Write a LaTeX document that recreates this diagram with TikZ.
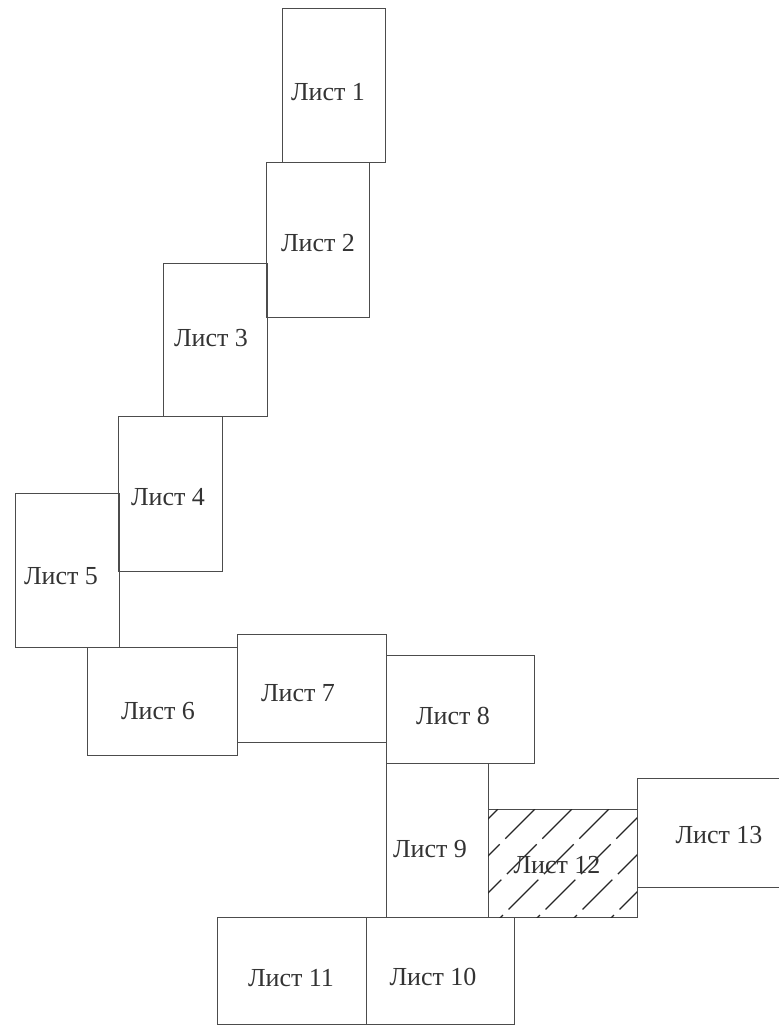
\documentclass[tikz,border=0pt]{standalone}
\usepackage{fontspec}
\setmainfont{Liberation Serif}
\begin{document}
\begin{tikzpicture}[x=1pt,y=-1pt,
  sheet/.style={draw=black!70,line width=0.9pt,inner sep=0pt,outer sep=0pt},
  lbl/.style={text=black!80,font=\fontsize{26}{30}\selectfont,inner sep=0pt},
  hatchline/.style={draw=black!85,line width=1.3pt,dash pattern=on 42pt off 8pt}]
\useasboundingbox (0,0) rectangle (779,1026);
\clip (0,0) rectangle (779,1026);
% boxes
\node[sheet,minimum width=103pt,minimum height=154pt] (s1) at (333.5,85) {};
\node[sheet,minimum width=103pt,minimum height=155pt] (s2) at (317.5,239.5) {};
\node[sheet,minimum width=104pt,minimum height=153pt] (s3) at (215,339.5) {};
\node[sheet,minimum width=104pt,minimum height=155pt] (s4) at (170,493.5) {};
\node[sheet,minimum width=104pt,minimum height=154pt] (s5) at (67,570) {};
\node[sheet,minimum width=150pt,minimum height=108pt] (s6) at (162,701) {};
\node[sheet,minimum width=149pt,minimum height=108pt] (s7) at (311.5,688) {};
\node[sheet,minimum width=148pt,minimum height=108pt] (s8) at (460,709) {};
\node[sheet,minimum width=102pt,minimum height=154pt] (s9) at (437,840) {};
\node[sheet,minimum width=149pt,minimum height=107pt] (s11) at (291.5,970.5) {};
\node[sheet,minimum width=148pt,minimum height=107pt] (s10) at (440,970.5) {};
\node[sheet,minimum width=163pt,minimum height=109pt] (s13) at (718.5,832.5) {};
% hatched sheet 12
\node[sheet,minimum width=149pt,minimum height=108pt] (s12) at (562.5,863) {};
\begin{scope}
  \clip (s12.north west) rectangle (s12.south east);
  \foreach \k in {-3,...,7} {
    \draw[hatchline] ({498+37*\k},809) -- ({498+37*\k-130},939);
  }
\end{scope}
% labels
\node[lbl] (t1) at (328,92) {Лист 1};
\node[lbl] (t2) at (318,243) {Лист 2};
\node[lbl] (t3) at (211,338) {Лист 3};
\node[lbl] (t4) at (168,497) {Лист 4};
\node[lbl] (t5) at (61,576) {Лист 5};
\node[lbl] (t6) at (158,711) {Лист 6};
\node[lbl] (t7) at (298,693) {Лист 7};
\node[lbl] (t8) at (453,716) {Лист 8};
\node[lbl] (t9) at (430,849) {Лист 9};
\node[lbl] (t12) at (557,865) {Лист 12};
\node[lbl] (t13) at (719,835) {Лист 13};
\node[lbl] (t11) at (291,978) {Лист 11};
\node[lbl] (t10) at (433,977) {Лист 10};
\end{tikzpicture}
\end{document}
